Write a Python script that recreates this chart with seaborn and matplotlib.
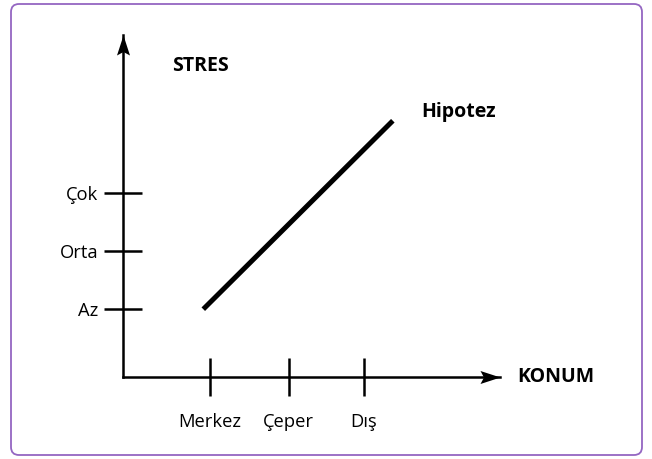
import matplotlib
matplotlib.use("Agg")
import matplotlib.pyplot as plt
import seaborn as sns
import numpy as np
from matplotlib.path import Path
from matplotlib.patches import FancyBboxPatch

# Eksen kategorileri ve konumları
konum_labels = ["Merkez", "Çeper", "Dış"]
konum_pos = [1.08, 2.07, 3.01]
stres_labels = ["Az", "Orta", "Çok"]
stres_pos = [1.15, 2.15, 3.14]

# Hipotez çizgisi
hyp_x = [1.0, 3.37]
hyp_y = [1.15, 4.37]

x_max = 4.71
y_max = 5.84

sns.set_style("white")
plt.rcParams["font.family"] = ["Open Sans", "DejaVu Sans"]
plt.rcParams["text.color"] = "black"

fig = plt.figure(figsize=(6.52, 4.59), dpi=100)
ax = fig.add_axes([123.3 / 652, (459 - 376.5) / 459, 376.7 / 652, 341.8 / 459])

sns.lineplot(x=hyp_x, y=hyp_y, color="black", lw=3.6, ax=ax,
             solid_capstyle="butt")

ax.set_xlim(0, x_max)
ax.set_ylim(0, y_max)
for s in ["top", "right"]:
    ax.spines[s].set_visible(False)
for s in ["left", "bottom"]:
    ax.spines[s].set_linewidth(1.8)
    ax.spines[s].set_color("black")

ax.set_xticks(konum_pos)
ax.set_xticklabels(konum_labels)
ax.set_yticks(stres_pos)
ax.set_yticklabels(stres_labels)
ax.tick_params(axis="both", bottom=True, left=True, direction="inout",
               length=28, width=1.8, color="black", labelsize=13.2,
               labelcolor="black")
ax.tick_params(axis="x", pad=12)
ax.tick_params(axis="y", pad=4)

# Ok başları (içbükey)
head_x = Path([(0, 0), (-20, 6.5), (-16.5, 0), (-20, -6.5), (0, 0)],
              [Path.MOVETO, Path.LINETO, Path.LINETO, Path.LINETO, Path.CLOSEPOLY])
head_y = Path([(0, 0), (6.5, -20), (0, -16.5), (-6.5, -20), (0, 0)],
              [Path.MOVETO, Path.LINETO, Path.LINETO, Path.LINETO, Path.CLOSEPOLY])
ax.plot([x_max], [0], marker=head_x, markersize=28.8, color="black",
        clip_on=False, mew=0)
ax.plot([0], [y_max], marker=head_y, markersize=28.8, color="black",
        clip_on=False, mew=0)

ax.text(0.61, 5.31, "STRES", fontsize=14, fontweight="bold", va="center", ha="left",
        color="black")
ax.text(3.73, 4.52, "Hipotez", fontsize=14, fontweight="bold", va="center", ha="left",
        color="black")
ax.text(4.93, 0.0, "KONUM", fontsize=14, fontweight="bold", va="center", ha="left",
        color="black", clip_on=False)

# Çerçeve
frame = FancyBboxPatch((11, 459 - 455), 631, 451,
                       boxstyle="round,pad=0,rounding_size=8",
                       transform=None, fill=False, edgecolor="#9466c2", lw=1.3)
fig.patches.append(frame)

fig.savefig("out.png", dpi=100)
